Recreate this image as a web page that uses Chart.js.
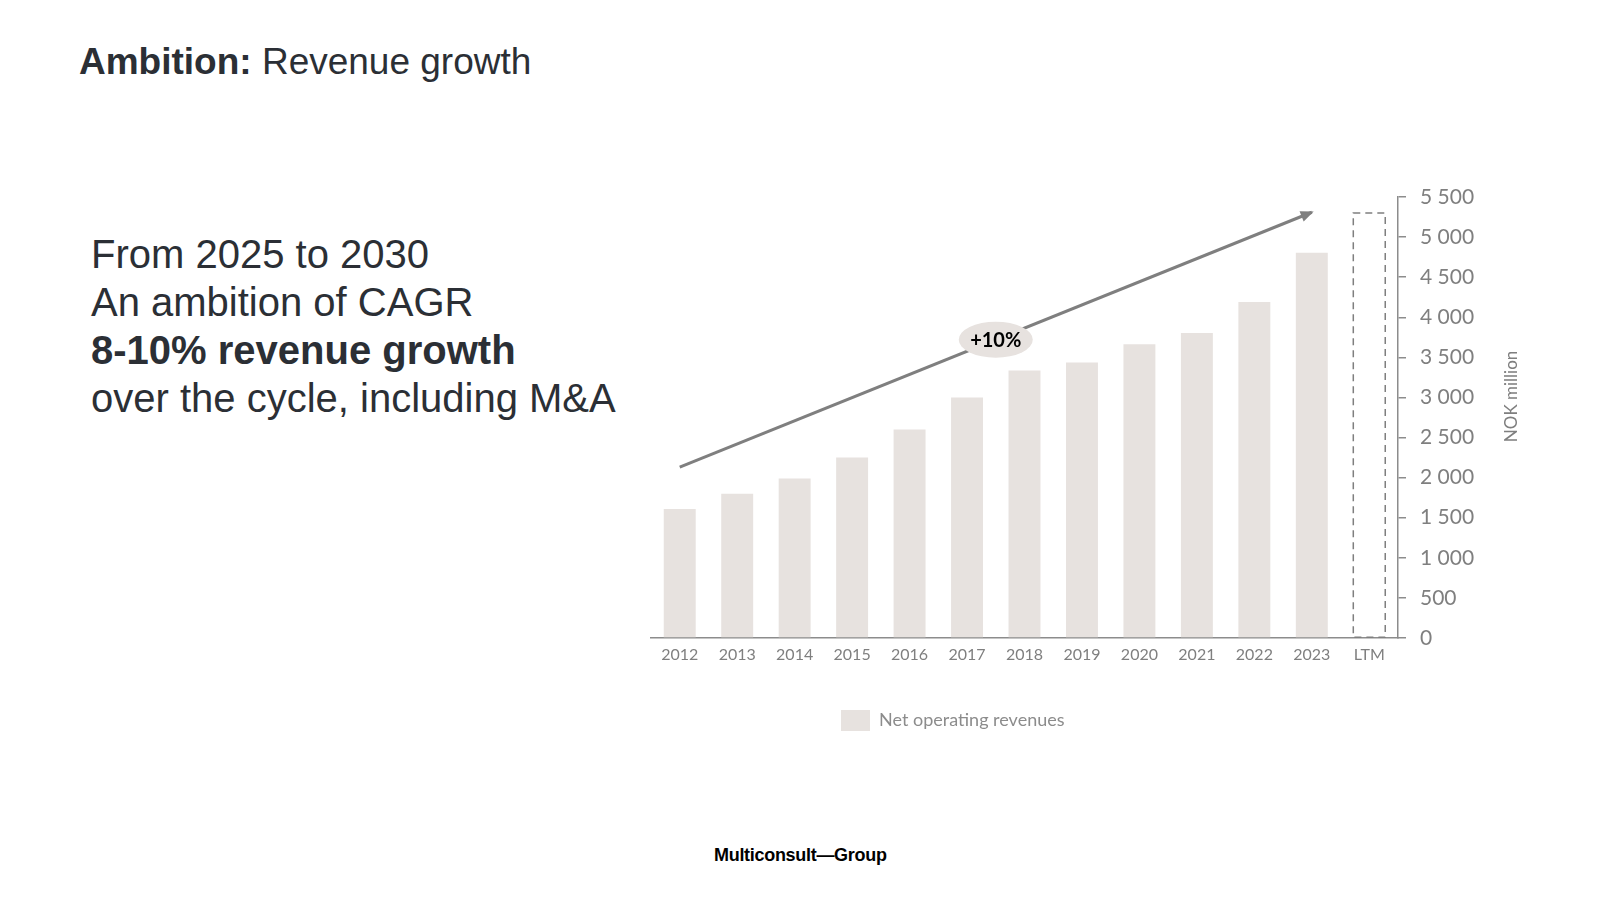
<!DOCTYPE html>
<html>
<head>
<meta charset="utf-8">
<title>Ambition: Revenue growth</title>
<script src="https://cdn.jsdelivr.net/npm/chart.js@4.4.1/dist/chart.umd.min.js"></script>
<style>
  body { margin: 0; width: 1600px; height: 900px; background: #fff; position: relative; overflow: hidden; font-family: "Liberation Sans", Arial, sans-serif; color: #2b2f35; }
  #title { position: absolute; left: 79px; top: 41px; font-size: 37px; white-space: nowrap; }
  #title b { font-weight: bold; }
  #intro { position: absolute; left: 91px; top: 230px; font-size: 40px; line-height: 48px; white-space: nowrap; }
  #footer { position: absolute; left: 714px; top: 845px; font-size: 18px; font-weight: bold; color: #000; letter-spacing: -0.3px; }
  #myChart { position: absolute; left: 630px; top: 160px; }
</style>
</head>
<body>
<div id="title"><b>Ambition:</b> Revenue growth</div>
<div id="intro">
  From 2025 to 2030<br>
  An ambition of CAGR<br>
  <b>8-10% revenue growth</b><br>
  over the cycle, including M&amp;A
</div>
<canvas id="myChart" width="920" height="600"></canvas>
<div id="footer">Multiconsult—Group</div>

<script>
// values (NOK million)
const years = ['2012', '2013', '2014', '2015', '2016', '2017', '2018', '2019', '2020', '2021', '2022', '2023', 'LTM'];
const revenues = [1610, 1800, 1990, 2250, 2600, 3000, 3335, 3435, 3665, 3805, 4190, 4805, null];
const ltmRevenue = [null, null, null, null, null, null, null, null, null, null, null, null, 5300];
const trendLine = [2130, null, null, null, null, null, null, null, null, null, null, 5310, null];
const trendLabel = '+10%';
const axisTitle = 'NOK million';

const barColor = '#e7e2df';
const tickColor = '#7f7f7f';
const lineColor = '#7f7f7f';

Chart.defaults.font.family = 'Lato';

function spaced(v) {
    return String(v).replace(/\B(?=(\d{3})+(?!\d))/g, ' ');
}

// dashed outline for LTM, arrow head, +10% bubble and rotated axis title
const extras = {
    id: 'extras',
    afterLayout(chart) {
        // move the legend so the item sits under the chart like on the slide
        const lg = chart.legend;
        const pad = lg.options.labels.padding;
        const curLeft = (lg.left + pad + lg.right - lg.lineWidths[0]) / 2;
        const shift = 211 - curLeft;
        lg.left += shift;
        lg.right += shift;
    },
    afterDatasetsDraw(chart) {
        const ctx = chart.ctx;
        const yScale = chart.scales.y;

        // LTM box
        const ltm = chart.getDatasetMeta(1).data[12];
        ctx.save();
        ctx.strokeStyle = '#7f7f7f';
        ctx.lineWidth = 1.5;
        ctx.setLineDash([7, 5]);
        ctx.strokeRect(ltm.x - ltm.width / 2, ltm.y, ltm.width, ltm.base - ltm.y);
        ctx.restore();

        // arrow head
        const pts = chart.getDatasetMeta(2).data;
        const p0 = pts[0], p1 = pts[11];
        const ang = Math.atan2(p1.y - p0.y, p1.x - p0.x);
        ctx.save();
        ctx.fillStyle = lineColor;
        ctx.translate(p1.x, p1.y);
        ctx.rotate(ang);
        ctx.beginPath();
        ctx.moveTo(2, 0);
        ctx.lineTo(-11, -5.5);
        ctx.lineTo(-11, 5.5);
        ctx.closePath();
        ctx.fill();
        ctx.restore();

        // bubble half way between 2017 and 2018
        const t = 5.5 / 11;
        const bx = p0.x + (p1.x - p0.x) * t;
        const by = p0.y + (p1.y - p0.y) * t;
        ctx.save();
        ctx.fillStyle = barColor;
        ctx.beginPath();
        ctx.ellipse(bx, by, 37, 18, 0, 0, Math.PI * 2);
        ctx.fill();
        ctx.fillStyle = '#000';
        ctx.font = 'bold 20px Lato';
        ctx.textAlign = 'center';
        ctx.textBaseline = 'middle';
        ctx.fillText(trendLabel, bx, by + 1);
        ctx.restore();

        // rotated axis title
        ctx.save();
        ctx.fillStyle = tickColor;
        ctx.font = '17px Lato';
        ctx.translate(yScale.left + 114, yScale.getPixelForValue(3000) - 1);
        ctx.rotate(-Math.PI / 2);
        ctx.textAlign = 'center';
        ctx.textBaseline = 'middle';
        ctx.fillText(axisTitle, 0, 0);
        ctx.restore();
    }
};

var ctx = document.getElementById('myChart').getContext('2d');

var myChart = new Chart(ctx, {
    type: 'bar',
    data: {
        labels: years,
        datasets: [{
            label: 'Net operating revenues',
            data: revenues,
            backgroundColor: barColor,
            borderColor: barColor,
            borderWidth: 0,
            grouped: false,
            categoryPercentage: 1,
            barPercentage: 0.556,
            order: 2
        }, {
            label: 'LTM',
            data: ltmRevenue,
            backgroundColor: 'rgba(0,0,0,0)',
            borderWidth: 0,
            grouped: false,
            categoryPercentage: 1,
            barPercentage: 0.556,
            order: 2
        }, {
            type: 'line',
            label: 'Trend',
            data: trendLine,
            borderColor: lineColor,
            borderWidth: 3,
            pointRadius: 0,
            spanGaps: true,
            order: 1
        }]
    },
    options: {
        responsive: false,
        devicePixelRatio: 1,
        animation: false,
        layout: { padding: { left: 21, right: 0, top: 37, bottom: 19 } },
        plugins: {
            tooltip: { enabled: false },
            legend: {
                position: 'bottom',
                labels: {
                    boxWidth: 29,
                    boxHeight: 21,
                    color: '#8c8c8c',
                    font: { size: 18 },
                    filter: item => item.datasetIndex === 0
                }
            }
        },
        scales: {
            x: {
                grid: { display: false },
                border: { display: true, color: '#8c8c8c', width: 1.5 },
                ticks: { color: tickColor, font: { size: 16 }, padding: -1 },
                afterFit: scale => { scale.height = 62; }
            },
            y: {
                position: 'right',
                min: 0,
                max: 5500,
                grid: { drawOnChartArea: false, drawTicks: true, tickLength: 8, color: '#8c8c8c', lineWidth: 1.5 },
                border: { display: true, color: '#8c8c8c', width: 1.5 },
                ticks: {
                    stepSize: 500,
                    color: tickColor,
                    font: { size: 21 },
                    padding: 14,
                    callback: v => spaced(v)
                },
                afterFit: scale => { scale.width = 152; }
            }
        }
    },
    plugins: [extras]
});
</script>
</body>
</html>
